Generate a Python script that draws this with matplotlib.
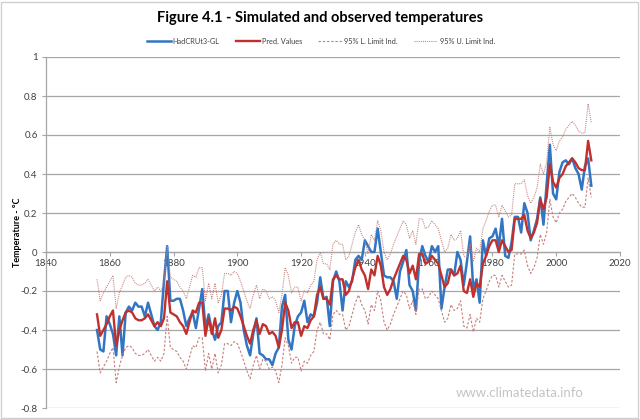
import matplotlib
matplotlib.use("Agg")
import matplotlib.pyplot as plt
from matplotlib.patches import Rectangle

plt.rcParams['axes.unicode_minus'] = False
plt.rcParams['font.family'] = ['Lato', 'DejaVu Sans']

years = list(range(1856, 2012))

hadcrut = [
    -0.40, -0.50, -0.51, -0.33, -0.37, -0.42, -0.53, -0.33, -0.53, -0.31,
    -0.28, -0.30, -0.26, -0.28, -0.28, -0.33, -0.26, -0.32, -0.38, -0.40,
    -0.36, -0.15, 0.03, -0.25, -0.25, -0.24, -0.24, -0.30, -0.38, -0.34,
    -0.31, -0.39, -0.29, -0.19, -0.39, -0.32, -0.40, -0.45, -0.38, -0.36,
    -0.20, -0.20, -0.36, -0.26, -0.20, -0.26, -0.40, -0.48, -0.53, -0.42,
    -0.34, -0.52, -0.53, -0.55, -0.55, -0.58, -0.52, -0.49, -0.28, -0.22,
    -0.45, -0.50, -0.38, -0.33, -0.31, -0.25, -0.36, -0.32, -0.33, -0.26,
    -0.13, -0.24, -0.23, -0.38, -0.15, -0.10, -0.15, -0.30, -0.15, -0.18,
    -0.15, -0.04, -0.02, -0.04, 0.06, 0.03, 0.00, 0.00, 0.12, 0.00,
    -0.12, -0.13, -0.13, -0.15, -0.24, -0.10, -0.05, 0.01, -0.17, -0.20,
    -0.30, -0.05, 0.03, -0.02, -0.05, 0.03, 0.00, 0.03, -0.29, -0.18,
    -0.09, -0.09, -0.12, 0.00, -0.04, -0.17, -0.05, 0.08, -0.19, -0.14,
    -0.26, 0.06, -0.02, 0.07, 0.08, 0.12, 0.03, 0.17, -0.02, -0.03,
    0.05, 0.18, 0.18, 0.10, 0.25, 0.20, 0.06, 0.11, 0.17, 0.28,
    0.14, 0.35, 0.55, 0.30, 0.27, 0.41, 0.46, 0.47, 0.45, 0.48,
    0.43, 0.40, 0.32, 0.44, 0.48, 0.34,
]

pred = [
    -0.32, -0.43, -0.40, -0.37, -0.33, -0.30, -0.48, -0.40, -0.35, -0.31,
    -0.30, -0.31, -0.34, -0.35, -0.35, -0.34, -0.32, -0.35, -0.38, -0.36,
    -0.38, -0.34, -0.15, -0.31, -0.32, -0.33, -0.36, -0.38, -0.42, -0.36,
    -0.30, -0.31, -0.26, -0.26, -0.43, -0.34, -0.42, -0.34, -0.44, -0.40,
    -0.29, -0.29, -0.30, -0.28, -0.29, -0.33, -0.38, -0.43, -0.47, -0.40,
    -0.35, -0.42, -0.37, -0.38, -0.42, -0.41, -0.43, -0.49, -0.40, -0.26,
    -0.30, -0.39, -0.36, -0.36, -0.43, -0.38, -0.39, -0.35, -0.33, -0.22,
    -0.18, -0.24, -0.24, -0.27, -0.14, -0.12, -0.14, -0.14, -0.22, -0.20,
    -0.14, -0.08, -0.04, -0.09, -0.12, -0.19, -0.09, -0.12, -0.02, -0.07,
    -0.18, -0.22, -0.19, -0.14, -0.10, -0.06, -0.02, -0.04, -0.11, -0.07,
    -0.14, -0.01, -0.01, -0.06, -0.05, -0.02, -0.04, -0.06, -0.12, -0.18,
    -0.16, -0.09, -0.12, -0.11, -0.07, -0.20, -0.21, -0.14, -0.23, -0.16,
    -0.18, -0.06, -0.02, 0.03, 0.06, 0.06, 0.00, 0.06, 0.03, 0.00,
    0.01, 0.17, 0.17, 0.17, 0.19, 0.11, 0.07, 0.10, 0.15, 0.27,
    0.22, 0.28, 0.45, 0.36, 0.33, 0.38, 0.40, 0.44, 0.46, 0.48,
    0.46, 0.43, 0.42, 0.42, 0.57, 0.47,
]

lower = [
    -0.51, -0.62, -0.59, -0.56, -0.52, -0.49, -0.67, -0.59, -0.53, -0.49,
    -0.48, -0.49, -0.52, -0.53, -0.53, -0.52, -0.50, -0.53, -0.56, -0.54,
    -0.56, -0.52, -0.33, -0.49, -0.50, -0.51, -0.54, -0.56, -0.60, -0.54,
    -0.48, -0.49, -0.44, -0.44, -0.61, -0.52, -0.60, -0.52, -0.62, -0.58,
    -0.47, -0.47, -0.48, -0.46, -0.47, -0.51, -0.56, -0.61, -0.65, -0.58,
    -0.53, -0.60, -0.55, -0.56, -0.60, -0.59, -0.61, -0.67, -0.58, -0.44,
    -0.48, -0.57, -0.54, -0.54, -0.61, -0.56, -0.57, -0.53, -0.51, -0.40,
    -0.36, -0.42, -0.42, -0.45, -0.32, -0.30, -0.32, -0.32, -0.40, -0.38,
    -0.32, -0.26, -0.22, -0.27, -0.30, -0.37, -0.27, -0.30, -0.20, -0.25,
    -0.36, -0.40, -0.37, -0.32, -0.28, -0.24, -0.20, -0.22, -0.29, -0.25,
    -0.32, -0.19, -0.19, -0.24, -0.23, -0.20, -0.22, -0.24, -0.30, -0.36,
    -0.34, -0.27, -0.30, -0.29, -0.25, -0.38, -0.39, -0.32, -0.41, -0.34,
    -0.36, -0.24, -0.20, -0.15, -0.12, -0.12, -0.18, -0.12, -0.15, -0.18,
    -0.17, -0.01, -0.01, -0.01, 0.01, -0.07, -0.11, -0.08, -0.03, 0.09,
    0.04, 0.10, 0.27, 0.18, 0.15, 0.20, 0.22, 0.26, 0.28, 0.30,
    0.28, 0.25, 0.23, 0.23, 0.38, 0.28,
]

upper = [
    -0.14, -0.25, -0.21, -0.18, -0.15, -0.12, -0.29, -0.21, -0.17, -0.13,
    -0.12, -0.13, -0.16, -0.17, -0.17, -0.16, -0.14, -0.17, -0.20, -0.18,
    -0.20, -0.16, 0.03, -0.13, -0.14, -0.15, -0.18, -0.20, -0.24, -0.18,
    -0.12, -0.13, -0.08, -0.08, -0.25, -0.16, -0.24, -0.16, -0.26, -0.22,
    -0.11, -0.11, -0.12, -0.10, -0.11, -0.15, -0.20, -0.25, -0.29, -0.22,
    -0.17, -0.24, -0.19, -0.20, -0.24, -0.23, -0.25, -0.31, -0.22, -0.08,
    -0.12, -0.21, -0.18, -0.18, -0.25, -0.20, -0.21, -0.17, -0.15, -0.04,
    0.00, -0.06, -0.06, -0.09, 0.04, 0.06, 0.04, 0.04, -0.04, -0.02,
    0.04, 0.10, 0.14, 0.09, 0.06, -0.01, 0.09, 0.06, 0.16, 0.11,
    0.00, -0.04, -0.01, 0.04, 0.08, 0.12, 0.16, 0.14, 0.07, 0.11,
    0.04, 0.17, 0.17, 0.12, 0.13, 0.16, 0.14, 0.12, 0.06, 0.00,
    0.02, 0.09, 0.06, 0.07, 0.11, -0.02, -0.03, 0.04, -0.05, 0.02,
    0.00, 0.12, 0.16, 0.21, 0.24, 0.24, 0.18, 0.24, 0.21, 0.18,
    0.19, 0.35, 0.35, 0.35, 0.37, 0.29, 0.25, 0.28, 0.33, 0.45,
    0.40, 0.46, 0.64, 0.55, 0.52, 0.57, 0.59, 0.63, 0.65, 0.67,
    0.65, 0.62, 0.61, 0.61, 0.76, 0.66,
]

x_ticks = [1840, 1860, 1880, 1900, 1920, 1940, 1960, 1980, 2000, 2020]
y_ticks = [1, 0.8, 0.6, 0.4, 0.2, 0, -0.2, -0.4, -0.6, -0.8]
y_tick_labels = ["1", "0.8", "0.6", "0.4", "0.2", "0", "-0.2", "-0.4", "-0.6", "-0.8"]

title = "Figure 4.1 - Simulated and observed temperatures"
series_names = ["HadCRUt3-GL", "Pred. Values", "95% L. Limit Ind.", "95% U. Limit Ind."]

W, H = 640, 419
fig = plt.figure(figsize=(W / 100, H / 100), dpi=100)
fig.patch.set_facecolor('white')

# outer chart border
fig.add_artist(Rectangle((1 / W, 1 / H), (W - 3) / W, (H - 3) / H, transform=fig.transFigure,
                         fill=False, edgecolor='#d0d0d0', linewidth=1.0))

L, R, T, B = 46, 620, 57, 408
ax = fig.add_axes([L / W, 1 - B / H, (R - L) / W, (B - T) / H])

blue = '#3276c3'
red = '#c0302c'
lim = '#c4807c'

ax.plot(years, hadcrut, color=blue, lw=1.8, label=series_names[0], zorder=3, solid_joinstyle='round')
ax.plot(years, pred, color=red, lw=1.7, label=series_names[1], zorder=4, solid_joinstyle='round')
ax.plot(years, lower, color=lim, lw=0.8, dashes=(2.2, 1.6), label=series_names[2], zorder=5)
ax.plot(years, upper, color=lim, lw=0.8, dashes=(0.9, 1.0), label=series_names[3], zorder=5)

ax.set_xlim(1840, 2020)
ax.set_ylim(-0.8, 1.0)

ax.set_yticks(y_ticks)
ax.set_yticklabels(y_tick_labels)
ax.set_xticks(x_ticks)
ax.set_xticklabels([str(v) for v in x_ticks])

for yv in y_ticks:
    ax.axhline(yv, color='#a6a6a6', lw=0.9, zorder=1)

for s in ['top', 'right']:
    ax.spines[s].set_visible(False)
ax.spines['left'].set_color('#a6a6a6')
ax.spines['left'].set_linewidth(0.9)
ax.spines['bottom'].set_position(('data', 0))
ax.spines['bottom'].set_color('#a6a6a6')
ax.spines['bottom'].set_linewidth(0.9)

ax.tick_params(axis='y', direction='out', length=3, width=0.8, color='#a6a6a6',
               labelsize=7, labelcolor='#404040', pad=3)
ax.tick_params(axis='x', direction='out', length=3, width=0.8, color='#a6a6a6',
               labelsize=7, labelcolor='#404040', pad=2)

fig.text(17 / W, 1 - 232 / H, "Temperature - °C", rotation=90, ha='center', va='center',
         fontsize=6.5, fontweight='bold', color='#000000')

fig.text(320 / W, 1 - 18 / H, title, ha='center', va='center',
         fontsize=10.5, fontweight='bold', color='#000000')

leg = fig.legend(loc='center', bbox_to_anchor=(321 / W, 1 - 41 / H), ncol=4, frameon=False,
                 fontsize=5.3, handlelength=3.2, handletextpad=0.3, columnspacing=2.2)
for t in leg.get_texts():
    t.set_color('#404040')

fig.text(520 / W, 1 - 393 / H, "www.climatedata.info", ha='center', va='center',
         fontsize=9.5, color='#c4c4c4')

fig.savefig("out.png", dpi=100, facecolor='white')
